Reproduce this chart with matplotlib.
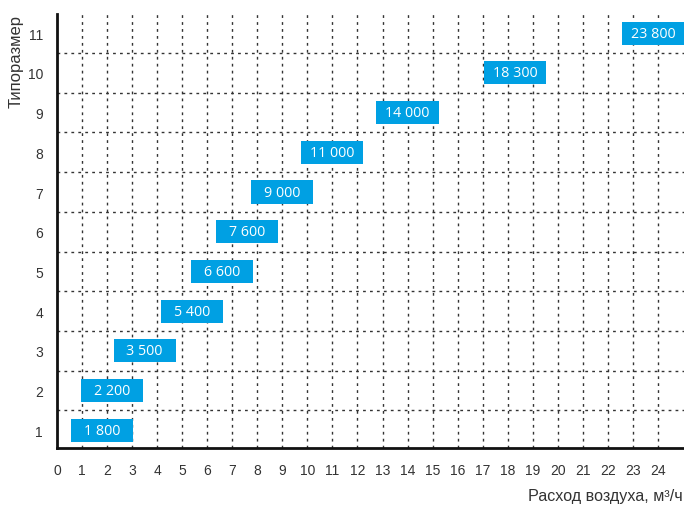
import matplotlib.pyplot as plt
from matplotlib.patches import Rectangle

# Typical size vs max air flow (m3/h)
sizes = [1, 2, 3, 4, 5, 6, 7, 8, 9, 10, 11]
airflow = [1800, 2200, 3500, 5400, 6600, 7600, 9000, 11000, 14000, 18300, 23800]
labels = ["1 800", "2 200", "3 500", "5 400", "6 600", "7 600",
          "9 000", "11 000", "14 000", "18 300", "23 800"]
x_ticks = list(range(0, 25))

box_color = "#00A0E3"
box_w = 2.48
box_h = 0.58

fig = plt.figure(figsize=(6.84, 5.06), dpi=100)
ax = fig.add_axes([0.0833, 0.1126, 0.9167, 0.8574])

# grid: vertical dotted at each unit, horizontal dashed between sizes
for x in x_ticks[1:]:
    ax.axvline(x, color="#333333", lw=1.0, ls=(0, (2, 3)), zorder=1)
for y in sizes[:-1]:
    ax.axhline(y + 0.5, color="#333333", lw=1.0, ls=(0, (2, 3)), zorder=1)

for s, v, lab in zip(sizes, airflow, labels):
    xc = v / 1000
    ax.add_patch(Rectangle((xc - box_w / 2, s - box_h / 2), box_w, box_h,
                           facecolor=box_color, edgecolor="none", zorder=3))
    ax.text(xc, s, lab, ha="center", va="center", color="white",
            fontsize=10.3, family="Open Sans", zorder=4)

ax.set_xlim(0, 25.04)
ax.set_ylim(0.55, 11.48)
ax.set_xticks(x_ticks)
ax.set_yticks(sizes)
ax.tick_params(axis="both", length=0, labelsize=10, colors="#333333")
ax.tick_params(axis="x", pad=10.5)
ax.tick_params(axis="y", pad=10)
for t in ax.get_xticklabels() + ax.get_yticklabels():
    t.set_family("Liberation Sans")

for sp in ["top", "right"]:
    ax.spines[sp].set_visible(False)
for sp in ["left", "bottom"]:
    ax.spines[sp].set_linewidth(2.0)
    ax.spines[sp].set_color("#111111")

fig.text(0.023, 1 - 62 / 506, "Типоразмер", rotation=90, ha="center",
         va="center", fontsize=12, family="Liberation Sans", color="#333333")
fig.text(0.998, 1 - 497 / 506, "Расход воздуха, м³/ч", ha="right",
         va="center", fontsize=11.6, family="Liberation Sans", color="#333333")

fig.savefig("out.png", dpi=100)
